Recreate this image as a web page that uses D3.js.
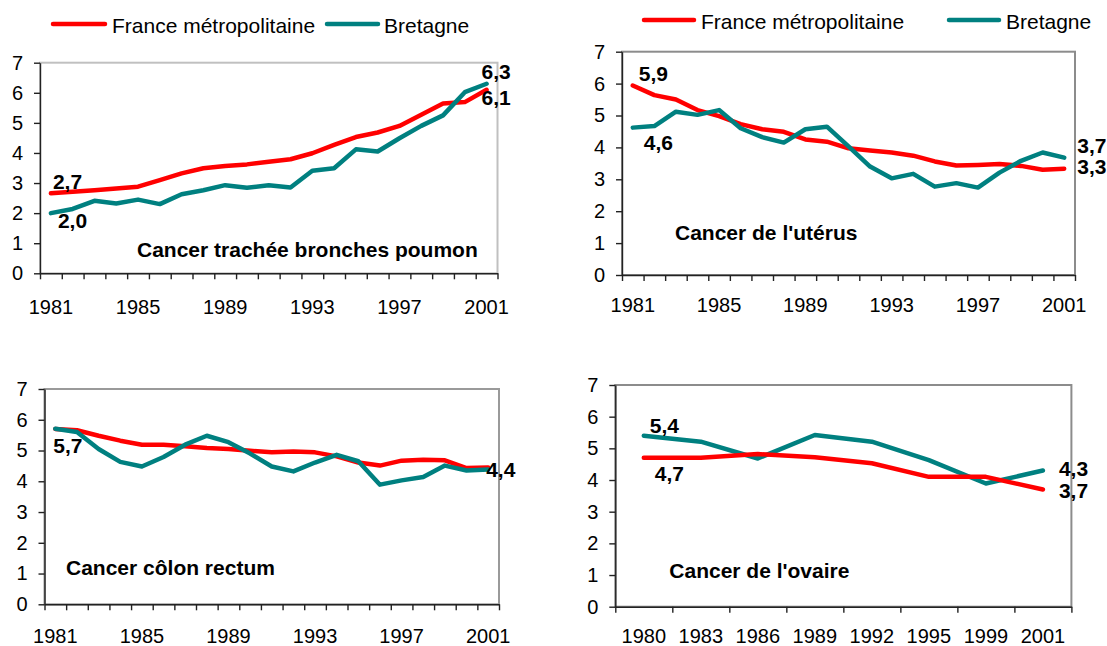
<!DOCTYPE html>
<html>
<head>
<meta charset="utf-8">
<script src="https://cdn.jsdelivr.net/npm/d3@7"></script>
<style>
  body { margin: 0; background: #fff; }
  svg text { font-family: "Liberation Sans", Arial, sans-serif; fill: #000; }
</style>
</head>
<body>
<div id="chart"></div>
<script>
// values (taux, per 100 000)
const years = [1981, 1982, 1983, 1984, 1985, 1986, 1987, 1988, 1989, 1990, 1991,
               1992, 1993, 1994, 1995, 1996, 1997, 1998, 1999, 2000, 2001];
const tickYears = [1981, 1985, 1989, 1993, 1997, 2001];
const ovaireYears = [1980, 1983, 1986, 1989, 1992, 1995, 1999, 2001];
const yTicks = [0, 1, 2, 3, 4, 5, 6, 7];
const seriesNames = ["France métropolitaine", "Bretagne"];
const seriesColors = ["#ff0000", "#008080"];

const poumonFrance   = [2.66, 2.71, 2.76, 2.82, 2.88, 3.10, 3.32, 3.49, 3.57, 3.62, 3.71,
                        3.79, 3.99, 4.27, 4.53, 4.68, 4.90, 5.27, 5.64, 5.69, 6.10];
const poumonBretagne = [2.00, 2.14, 2.41, 2.32, 2.45, 2.30, 2.63, 2.76, 2.93, 2.84, 2.93,
                        2.85, 3.41, 3.49, 4.12, 4.05, 4.49, 4.90, 5.25, 6.02, 6.30];

const uterusFrance   = [5.94, 5.64, 5.50, 5.17, 4.98, 4.73, 4.57, 4.49, 4.25, 4.18, 3.97,
                        3.90, 3.84, 3.74, 3.56, 3.43, 3.45, 3.48, 3.42, 3.30, 3.33];
const uterusBretagne = [4.62, 4.67, 5.12, 5.02, 5.17, 4.60, 4.32, 4.15, 4.57, 4.65, 4.03,
                        3.40, 3.03, 3.17, 2.77, 2.88, 2.74, 3.21, 3.58, 3.84, 3.68];

const colonFrance    = [5.70, 5.66, 5.48, 5.32, 5.19, 5.19, 5.14, 5.08, 5.05, 4.99, 4.94,
                        4.97, 4.94, 4.81, 4.61, 4.51, 4.67, 4.70, 4.68, 4.43, 4.45];
const colonBretagne  = [5.71, 5.60, 5.05, 4.63, 4.48, 4.79, 5.19, 5.48, 5.27, 4.90, 4.48,
                        4.32, 4.61, 4.86, 4.65, 3.89, 4.03, 4.14, 4.51, 4.35, 4.38];

const ovaireFrance   = [4.70, 4.70, 4.82, 4.72, 4.53, 4.10, 4.10, 3.70];
const ovaireBretagne = [5.40, 5.21, 4.68, 5.42, 5.21, 4.63, 3.89, 4.30];

const fmt = d3.formatLocale({decimal: ",", thousands: " ", grouping: [3], currency: ["", "€"]}).format(".1f");

const W = 1107, H = 646;
const svg = d3.select("#chart").append("svg")
    .attr("width", W)
    .attr("height", H);

// layout of the four panels
const panels = [
    {title: "Cancer trachée bronches poumon", cats: years, xLabels: tickYears,
     values: [poumonFrance, poumonBretagne], front: 1,
     box: {left: 40, right: 497.5, top: 62.7, bottom: 273.3}, border: "#c0c0c0",
     title_dx: 97, title_dy: -16, labelPad: 26.5,
     labels: [{s: 0, i: 0, dx: 2, dy: -4}, {s: 1, i: 0, dx: 7, dy: 15},
              {s: 1, i: 20, dx: -5, dy: -5}, {s: 0, i: 20, dx: -5, dy: 15.5}]},
    {title: "Cancer de l'utérus", cats: years, xLabels: tickYears,
     values: [uterusFrance, uterusBretagne], front: 1,
     box: {left: 622, right: 1075, top: 51.7, bottom: 275}, border: "#8c8c8c",
     title_dx: 53, title_dy: -35, labelPad: 22.5,
     labels: [{s: 0, i: 0, dx: 6, dy: -5}, {s: 1, i: 0, dx: 11, dy: 22},
              {s: 1, i: 20, dx: 13, dy: -5}, {s: 0, i: 20, dx: 13, dy: 5}]},
    {title: "Cancer côlon rectum", cats: years, xLabels: tickYears,
     values: [colonFrance, colonBretagne], front: 1,
     box: {left: 44.5, right: 499, top: 389, bottom: 604.3}, border: "#9a9a9a",
     title_dx: 21.5, title_dy: -29, labelPad: 24.8,
     labels: [{s: 1, i: 0, dx: -2, dy: 24}, {s: 1, i: 20, dx: -2, dy: 7}]},
    {title: "Cancer de l'ovaire", cats: ovaireYears, xLabels: ovaireYears,
     values: [ovaireFrance, ovaireBretagne], front: 0,
     box: {left: 615.3, right: 1071.4, top: 385, bottom: 606.7}, border: "#8c8c8c",
     title_dx: 54, title_dy: -29, labelPad: 22.1,
     labels: [{s: 1, i: 0, dx: 6, dy: -3}, {s: 0, i: 0, dx: 11, dy: 23},
              {s: 1, i: 7, dx: 16, dy: 5}, {s: 0, i: 7, dx: 16, dy: 8}]}
];

panels.forEach(p => {
    const b = p.box;
    const g = svg.append("g");

    let x = d3.scaleBand()
        .domain(p.cats)
        .range([b.left, b.right])
        .padding(0);

    let xEdge = d3.scaleLinear()
        .domain([0, p.cats.length])
        .range([b.left, b.right]);

    let y = d3.scaleLinear()
        .domain([0, 7])
        .range([b.bottom, b.top]);

    // frame (top / right in grey)
    g.append("rect")
        .attr("x", b.left)
        .attr("y", b.top)
        .attr("width", b.right - b.left)
        .attr("height", b.bottom - b.top)
        .attr("fill", "none")
        .attr("stroke", p.border)
        .attr("stroke-width", 2);

    // y axis
    let yAx = g.append("g")
        .attr("transform", "translate(" + b.left + ",0)")
        .call(d3.axisLeft(y).tickValues(yTicks).tickFormat(d3.format("d"))
            .tickSize(6).tickSizeOuter(0).tickPadding(11));
    yAx.selectAll("text").attr("font-size", 20).attr("font-family", null);

    // x axis: tick marks between categories
    let edges = p.cats.map((c, i) => i).concat([p.cats.length]);
    g.append("g")
        .attr("transform", "translate(0," + b.bottom + ")")
        .call(d3.axisBottom(xEdge).tickValues(edges).tickFormat("").tickSize(6).tickSizeOuter(0));

    // x axis labels centered on categories
    let xAx = g.append("g")
        .attr("transform", "translate(0," + b.bottom + ")")
        .call(d3.axisBottom(x).tickValues(p.xLabels).tickSize(0).tickPadding(p.labelPad));
    xAx.select(".domain").remove();
    xAx.selectAll("text").attr("font-size", 20).attr("font-family", null);

    g.selectAll(".domain, .tick line")
        .attr("stroke", "#222")
        .attr("stroke-width", 1.4);

    // lines
    let line = d3.line()
        .x((d, i) => x(p.cats[i]) + x.bandwidth() / 2)
        .y(d => y(d));

    let order = p.front === 1 ? [0, 1] : [1, 0];
    order.forEach(s => {
        g.append("path")
            .datum(p.values[s])
            .attr("fill", "none")
            .attr("stroke", seriesColors[s])
            .attr("stroke-width", 4.5)
            .attr("stroke-linejoin", "round")
            .attr("stroke-linecap", "round")
            .attr("d", line);
    });

    // value labels
    p.labels.forEach(l => {
        g.append("text")
            .attr("x", x(p.cats[l.i]) + x.bandwidth() / 2 + l.dx)
            .attr("y", y(p.values[l.s][l.i]) + l.dy)
            .attr("font-size", 21)
            .attr("font-weight", "bold")
            .text(fmt(p.values[l.s][l.i]));
    });

    // panel title
    g.append("text")
        .attr("x", b.left + p.title_dx)
        .attr("y", b.bottom + p.title_dy)
        .attr("font-size", 21)
        .attr("font-weight", "bold")
        .text(p.title);
});

// legends (top of both upper panels)
const legends = [
    {y: 24, items: [{x1: 53, x2: 105, tx: 112}, {x1: 327, x2: 378, tx: 384}]},
    {y: 20, items: [{x1: 644, x2: 694, tx: 701}, {x1: 949, x2: 999, tx: 1006}]}
];

legends.forEach(lg => {
    lg.items.forEach((it, i) => {
        svg.append("line")
            .attr("x1", it.x1)
            .attr("x2", it.x2)
            .attr("y1", lg.y)
            .attr("y2", lg.y)
            .attr("stroke", seriesColors[i])
            .attr("stroke-width", 4.5)
            .attr("stroke-linecap", "round");
        svg.append("text")
            .attr("x", it.tx)
            .attr("y", lg.y + 9)
            .attr("font-size", 21)
            .text(seriesNames[i]);
    });
});
</script>
</body>
</html>
